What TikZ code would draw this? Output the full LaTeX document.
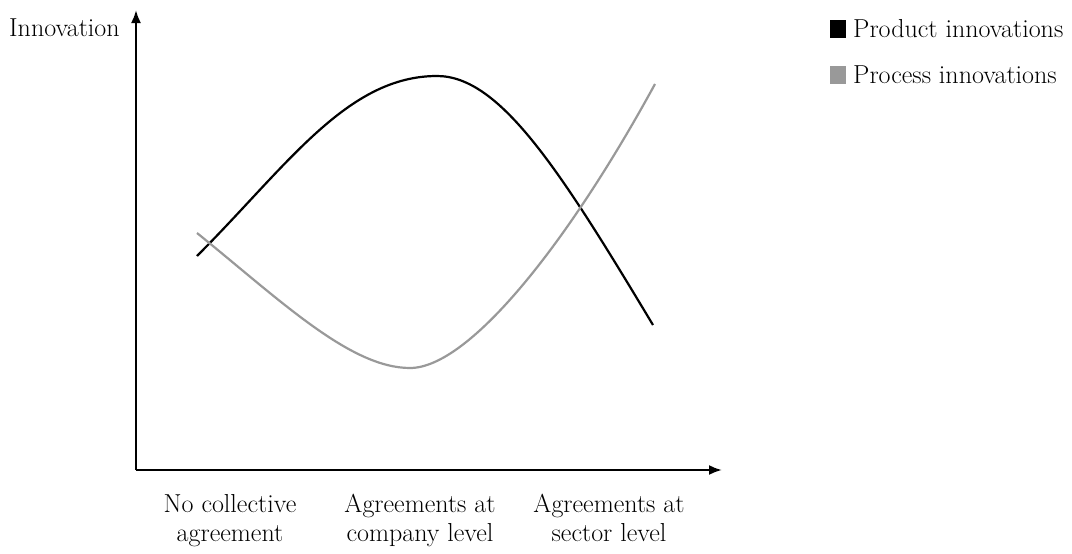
\documentclass[tikz,border=0pt]{standalone}
\usetikzlibrary{arrows.meta}
\begin{document}
\begin{tikzpicture}[x=1pt,y=-1pt,
  lbl/.style={font=\fontsize{26}{29}\selectfont, inner sep=0pt},
  axis/.style={line width=2.2pt, -{Latex[length=13pt,width=10pt]}},
  prod/.style={line width=2.2pt, black},
  proc/.style={line width=2.2pt, procgray},
  legbox/.style={minimum width=16pt, minimum height=18pt, inner sep=0pt}]
\definecolor{procgray}{HTML}{999999}
\useasboundingbox (0,0) rectangle (1072,554);
\coordinate (O) at (136,470);
\coordinate (Ytop) at (136,10);
\coordinate (Xend) at (722,470);
\draw[axis] (O) -- (Ytop);
\draw[axis] (O) -- (Xend);
\node[lbl, anchor=west] (ylab) at (9,28) {Innovation};
\node[lbl, align=center, anchor=north] (l1) at (230,494) {No collective\\agreement};
\node[lbl, align=center, anchor=north] (l2) at (420,494) {Agreements at\\company level};
\node[lbl, align=center, anchor=north] (l3) at (609,494) {Agreements at\\sector level};
\draw[prod] (197,256) .. controls (287,166) and (347,76) .. (437,76)
            .. controls (500,76) and (560,170) .. (653,325);
\draw[proc] (197,233) .. controls (280,300) and (350,368) .. (410,368)
            .. controls (470,368) and (570,240) .. (655,84);
\node[legbox, fill=black] (k1) at (838,29) {};
\node[legbox, fill=procgray] (k2) at (838,75) {};
\node[lbl, anchor=west] (t1) at (853,29) {Product innovations};
\node[lbl, anchor=west] (t2) at (853,75) {Process innovations};
\end{tikzpicture}
\end{document}
